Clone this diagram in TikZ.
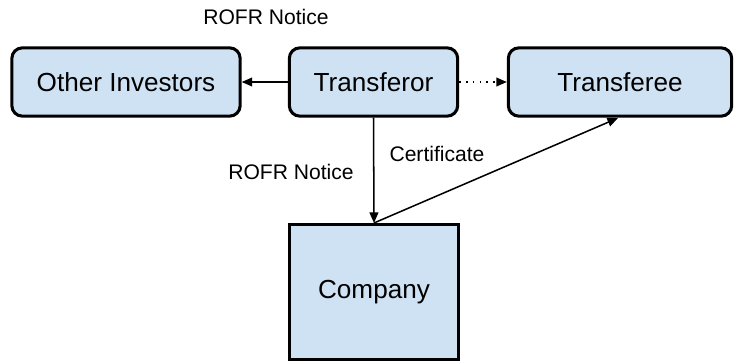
\documentclass[tikz,border=0pt]{standalone}
\usepackage{fontspec}
\setmainfont{Liberation Sans}
\usetikzlibrary{arrows.meta}

\definecolor{boxblue}{HTML}{CFE2F3}
\tikzset{
  party/.style={draw, line width=2.6pt, fill=boxblue, rounded corners=9pt,
    minimum width=#1, minimum height=2.05cm, inner sep=0pt,
    font=\fontsize{22.3}{26}\selectfont},
  party/.default=5cm,
  flow/.style={line width=1.3pt, -{Triangle[length=9pt,width=7.5pt]}},
  flowlabel/.style={font=\fontsize{18}{21}\selectfont}
}

\begin{document}
\begin{tikzpicture}[x=0.03cm,y=-0.03cm]
\useasboundingbox (0,0) rectangle (734,361);

\draw (126,82)   node (inv) [party=6.85cm] {Other Investors};
\draw (373.5,82) node (trf) [party=5.05cm] {Transferor};
\draw (620,82)   node (tre) [party=6.7cm]  {Transferee};
\draw (374,292)  node (co)  [party=5.05cm, rounded corners=0pt, minimum height=4.05cm] {Company};

% notices and certificate
\draw (266,17)  node (n1) [flowlabel] {ROFR Notice};
\draw (291,172) node (n2) [flowlabel] {ROFR Notice};
\draw (437,154) node (ct) [flowlabel] {Certificate};

\draw [flow] (trf) -- (inv);
\draw [flow, dash pattern=on 1.3pt off 4.5pt] (trf) -- (tre);
\draw [flow] (trf.south) -- (co.north);
\coordinate (tb) at (618,118);
\draw [flow] (co.north) -- (tb);
\end{tikzpicture}
\end{document}
